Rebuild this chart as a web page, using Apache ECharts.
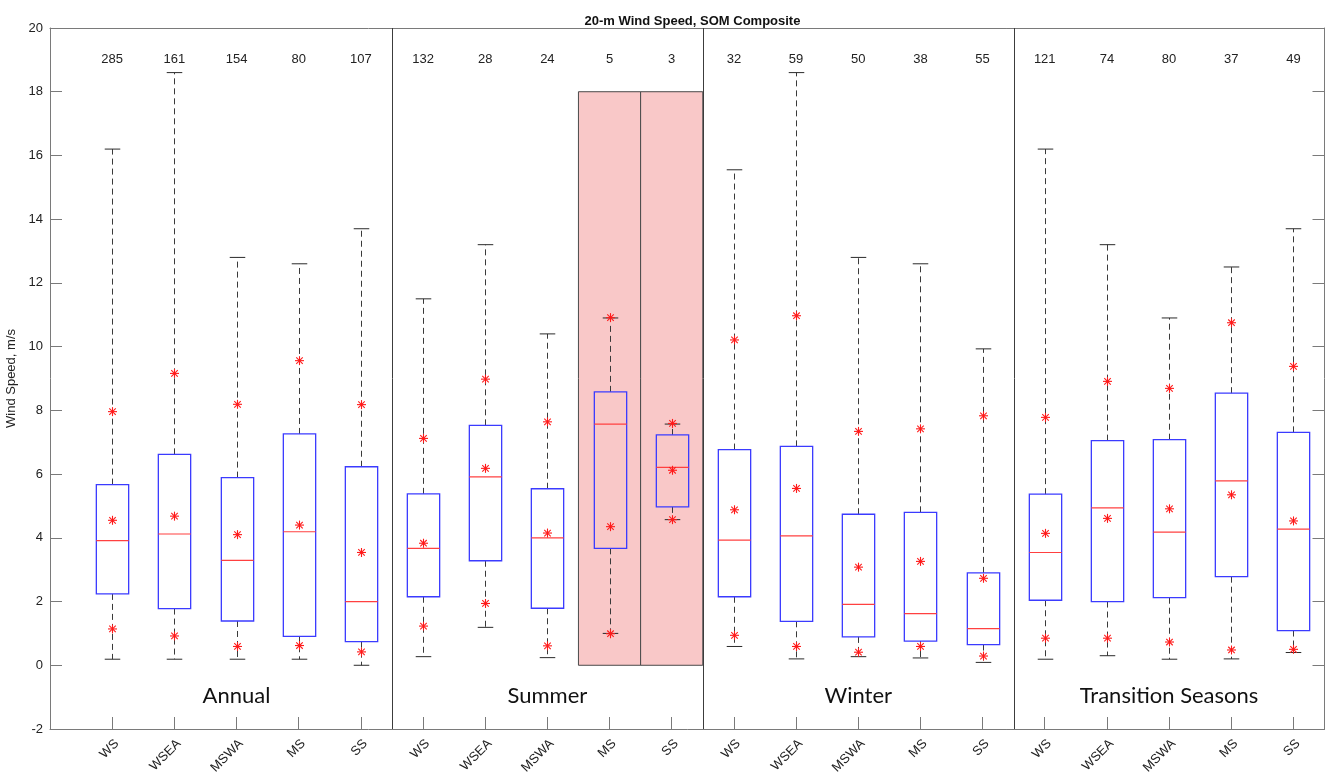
<!DOCTYPE html>
<html>
<head>
<meta charset="utf-8">
<script src="https://cdn.jsdelivr.net/npm/echarts@6/dist/echarts.min.js"></script>
<style>
  html, body { margin: 0; padding: 0; background: #ffffff; }
  #chart { width: 1328px; height: 772px; }
</style>
</head>
<body>
<div id="chart"></div>
<script>
// ---------------- data ----------------
const regimes = ['WS', 'WSEA', 'MSWA', 'MS', 'SS'];
const seasons = ['Annual', 'Summer', 'Winter', 'Transition Seasons'];
const categories = seasons.flatMap(() => regimes);

const counts = [285, 161, 154, 80, 107, 132, 28, 24, 5, 3, 32, 59, 50, 38, 55, 121, 74, 80, 37, 49];

const whiskerHigh = [16.2, 18.6, 12.8, 12.6, 13.7, 11.5, 13.2, 10.4, 10.9, 7.57, 15.55, 18.6, 12.8, 12.6, 9.93, 16.2, 13.2, 10.9, 12.5, 13.7];
const q3 = [5.67, 6.62, 5.89, 7.26, 6.23, 5.38, 7.53, 5.54, 8.58, 7.23, 6.77, 6.87, 4.74, 4.80, 2.90, 5.37, 7.05, 7.08, 8.54, 7.31];
const median = [3.91, 4.12, 3.29, 4.19, 2.0, 3.67, 5.91, 4.0, 7.57, 6.21, 3.93, 4.06, 1.91, 1.62, 1.15, 3.54, 4.94, 4.18, 5.79, 4.27];
const q1 = [2.24, 1.78, 1.39, 0.91, 0.74, 2.15, 3.28, 1.79, 3.67, 4.97, 2.15, 1.38, 0.89, 0.76, 0.65, 2.04, 2.0, 2.12, 2.78, 1.09];
const whiskerLow = [0.19, 0.19, 0.19, 0.19, 0.0, 0.27, 1.19, 0.24, 1.0, 4.57, 0.59, 0.2, 0.27, 0.23, 0.09, 0.19, 0.3, 0.19, 0.2, 0.4];

const meanStar = [4.55, 4.68, 4.10, 4.40, 3.54, 3.83, 6.18, 4.15, 4.35, 6.12, 4.88, 5.55, 3.08, 3.26, 2.73, 4.14, 4.61, 4.91, 5.35, 4.53];
const upperStar = [7.96, 9.16, 8.19, 9.56, 8.18, 7.12, 8.98, 7.64, 10.91, 7.59, 10.21, 10.97, 7.34, 7.42, 7.83, 7.78, 8.91, 8.69, 10.75, 9.38];
const lowerStar = [1.14, 0.92, 0.59, 0.62, 0.42, 1.23, 1.94, 0.61, 0.99, 4.57, 0.94, 0.59, 0.41, 0.59, 0.29, 0.85, 0.85, 0.73, 0.48, 0.50];

const shadedCategories = [9, 10];   // Summer MS, Summer SS
const shadedTop = 18;
const separators = [5.5, 10.5, 15.5];
const yTicks = { min: -2, max: 20, interval: 2 };

// ---------------- build ----------------
const positions = categories.map((_, i) => i + 1);
const boxData = positions.map((x, i) => [x, whiskerLow[i], q1[i], median[i], q3[i], whiskerHigh[i]]);
const starData = [];
positions.forEach((x, i) => {
  starData.push([x, upperStar[i]], [x, meanStar[i]], [x, lowerStar[i]]);
});
const countData = positions.map((x, i) => [x, counts[i]]);
const seasonData = seasons.map((s, k) => [k * regimes.length + (regimes.length + 1) / 2, s]);
const shadeData = shadedCategories.map(c => [c]);
const sepData = separators.map(s => [s]);

const AXIS_COLOR = '#7a7a7a';
const TXT = '#222222';
const FONT = 'Liberation Sans, Arial, sans-serif';

const chart = echarts.init(document.getElementById('chart'), null, { renderer: 'canvas' });

const option = {
  backgroundColor: '#ffffff',
  animation: false,
  title: {
    text: '20-m Wind Speed, SOM Composite',
    left: 687.5,
    textAlign: 'center',
    top: 10,
    textStyle: { fontFamily: FONT, fontSize: 13, fontWeight: 'bold', color: '#111' }
  },
  grid: { left: 50, right: 3.5, top: 28, bottom: 43, containLabel: false, outerBoundsMode: 'none' },
  xAxis: [
    {
      type: 'value', min: 0, max: 20.5, interval: 1, position: 'bottom',
      axisLine: { show: true, onZero: false, lineStyle: { color: AXIS_COLOR, width: 1 } },
      axisTick: { show: true, inside: true, length: 12, lineStyle: { color: AXIS_COLOR } },
      splitLine: { show: false },
      axisLabel: {
        rotate: 45, margin: 8, fontFamily: FONT, fontSize: 13, color: TXT,
        align: 'right', verticalAlign: 'top',
        showMinLabel: true, showMaxLabel: true,
        formatter: v => (Number.isInteger(v) && v >= 1 && v <= categories.length) ? categories[v - 1] : ''
      }
    },
    {
      type: 'value', min: 0, max: 20.5, position: 'top',
      axisLine: { show: true, onZero: false, lineStyle: { color: AXIS_COLOR, width: 1 } },
      axisTick: { show: false }, axisLabel: { show: false }, splitLine: { show: false }
    }
  ],
  yAxis: [
    {
      type: 'value', min: yTicks.min, max: yTicks.max, interval: yTicks.interval, position: 'left',
      name: 'Wind Speed, m/s', nameLocation: 'middle', nameGap: 32,
      nameTextStyle: { fontFamily: FONT, fontSize: 13, color: TXT },
      axisLine: { show: true, onZero: false, lineStyle: { color: AXIS_COLOR, width: 1 } },
      axisTick: { show: true, inside: true, length: 12, lineStyle: { color: AXIS_COLOR } },
      splitLine: { show: false },
      axisLabel: { fontFamily: FONT, fontSize: 13, color: TXT, margin: 7 }
    },
    {
      type: 'value', min: yTicks.min, max: yTicks.max, interval: yTicks.interval, position: 'right',
      axisLine: { show: true, onZero: false, lineStyle: { color: AXIS_COLOR, width: 1 } },
      axisTick: { show: true, inside: true, length: 12, lineStyle: { color: AXIS_COLOR } },
      splitLine: { show: false }, axisLabel: { show: false }
    }
  ],
  series: [
    // shaded (pink) categories
    {
      type: 'custom', z: 1, silent: true, data: shadeData,
      encode: { x: 0 },
      renderItem: (params, api) => {
        const c = api.value(0);
        const p0 = api.coord([c - 0.5, shadedTop]);
        const p1 = api.coord([c + 0.5, 0]);
        return {
          type: 'rect',
          shape: { x: p0[0], y: p0[1], width: p1[0] - p0[0], height: p1[1] - p0[1] },
          style: { fill: '#f9c8c8', stroke: '#4a4a4a', lineWidth: 1 }
        };
      }
    },
    // season separators
    {
      type: 'custom', z: 2, silent: true, data: sepData,
      encode: { x: 0 },
      renderItem: (params, api) => {
        const s = api.value(0);
        const a = api.coord([s, yTicks.min]);
        const b = api.coord([s, yTicks.max]);
        const x = Math.round(a[0]) + 0.5;
        return {
          type: 'line',
          shape: { x1: x, y1: a[1], x2: x, y2: b[1] },
          style: { stroke: '#3c3c3c', lineWidth: 1 }
        };
      }
    },
    // box plots
    {
      type: 'custom', z: 3, silent: true, data: boxData,
      encode: { x: 0, y: [1, 2, 3, 4, 5] },
      renderItem: (params, api) => {
        const x = api.value(0);
        const lo = api.coord([x, api.value(1)]);
        const b1 = api.coord([x, api.value(2)]);
        const md = api.coord([x, api.value(3)]);
        const b3 = api.coord([x, api.value(4)]);
        const hi = api.coord([x, api.value(5)]);
        const w = api.size([0.52, 0])[0];
        const cw = api.size([0.25, 0])[0];
        const cx = Math.round(lo[0]) + 0.5;
        const whisk = { stroke: '#3a3a3a', lineWidth: 1, lineDash: [6, 4] };
        const cap = { stroke: '#2a2a2a', lineWidth: 1 };
        return {
          type: 'group',
          children: [
            { type: 'line', shape: { x1: cx, y1: b3[1], x2: cx, y2: hi[1] }, style: whisk },
            { type: 'line', shape: { x1: cx, y1: b1[1], x2: cx, y2: lo[1] }, style: whisk },
            { type: 'line', shape: { x1: cx - cw / 2, y1: hi[1], x2: cx + cw / 2, y2: hi[1] }, style: cap },
            { type: 'line', shape: { x1: cx - cw / 2, y1: lo[1], x2: cx + cw / 2, y2: lo[1] }, style: cap },
            { type: 'rect', shape: { x: cx - w / 2, y: b3[1], width: w, height: b1[1] - b3[1] },
              style: { fill: null, stroke: '#3b3bff', lineWidth: 1.3 } },
            { type: 'line', shape: { x1: cx - w / 2, y1: md[1], x2: cx + w / 2, y2: md[1] },
              style: { stroke: '#ff4040', lineWidth: 1.2 } }
          ]
        };
      }
    },
    // star markers
    {
      type: 'custom', z: 4, silent: true, data: starData,
      encode: { x: 0, y: 1 },
      renderItem: (params, api) => {
        const p = api.coord([api.value(0), api.value(1)]);
        const r = 4.5, d = r * 0.72;
        const st = { stroke: '#ff1a1a', lineWidth: 1.1 };
        const px = Math.round(p[0]) + 0.5, py = p[1];
        return {
          type: 'group',
          children: [
            { type: 'line', shape: { x1: px - r, y1: py, x2: px + r, y2: py }, style: st },
            { type: 'line', shape: { x1: px, y1: py - r, x2: px, y2: py + r }, style: st },
            { type: 'line', shape: { x1: px - d, y1: py - d, x2: px + d, y2: py + d }, style: st },
            { type: 'line', shape: { x1: px - d, y1: py + d, x2: px + d, y2: py - d }, style: st }
          ]
        };
      }
    },
    // counts
    {
      type: 'custom', z: 5, silent: true, data: countData,
      encode: { x: 0 },
      renderItem: (params, api) => {
        const p = api.coord([api.value(0), 19]);
        return {
          type: 'text',
          style: { text: String(api.value(1)), x: p[0], y: p[1], align: 'center', verticalAlign: 'middle',
                   fontFamily: FONT, fontSize: 13, fill: TXT }
        };
      }
    },
    // season names
    {
      type: 'custom', z: 5, silent: true, data: seasonData,
      encode: { x: 0 },
      renderItem: (params, api) => {
        const p = api.coord([api.value(0), -0.95]);
        return {
          type: 'text',
          style: { text: seasonData[params.dataIndex][1], x: p[0], y: p[1], align: 'center', verticalAlign: 'middle',
                   fontFamily: 'Lato, Open Sans, sans-serif', fontSize: 22, fill: '#111' }
        };
      }
    }
  ]
};
chart.setOption(option);
</script>
</body>
</html>
